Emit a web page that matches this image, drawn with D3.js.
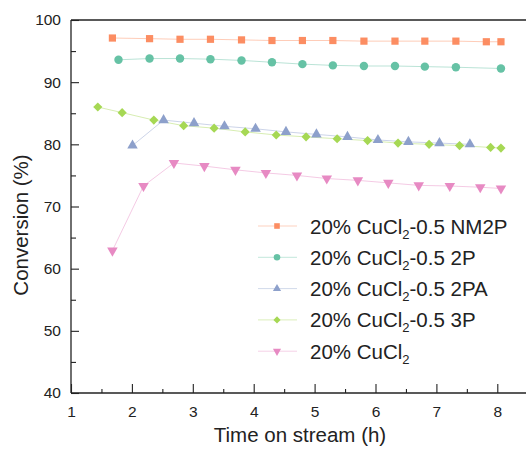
<!DOCTYPE html>
<html>
<head>
<meta charset="utf-8">
<script src="https://cdn.jsdelivr.net/npm/d3@7"></script>
<style>
  body { margin: 0; background: #fff; }
  svg { display: block; font-family: Arial, "Liberation Sans", sans-serif; }
</style>
</head>
<body>
<svg id="chart" width="526" height="450"></svg>
<script>
// values
const seriesNames = ["NM2P", "2P", "2PA", "3P", "CuCl2"];

const timeNM2P = [1.68, 2.29, 2.79, 3.29, 3.80, 4.30, 4.80, 5.30, 5.81, 6.32, 6.81, 7.32, 7.82, 8.06];
const convNM2P = [97.1, 97.0, 96.9, 96.9, 96.8, 96.7, 96.7, 96.7, 96.6, 96.6, 96.6, 96.6, 96.5, 96.5];

const time2P = [1.78, 2.29, 2.79, 3.29, 3.80, 4.30, 4.80, 5.30, 5.81, 6.32, 6.81, 7.32, 8.06];
const conv2P = [93.6, 93.8, 93.8, 93.7, 93.5, 93.2, 92.9, 92.7, 92.6, 92.6, 92.5, 92.4, 92.2];

const time2PA = [2.01, 2.52, 3.02, 3.52, 4.03, 4.53, 5.03, 5.54, 6.04, 6.54, 7.05, 7.55];
const conv2PA = [79.8, 83.9, 83.4, 82.9, 82.5, 82.0, 81.6, 81.2, 80.7, 80.4, 80.2, 80.0];

const time3P = [1.44, 1.84, 2.36, 2.85, 3.35, 3.86, 4.37, 4.86, 5.37, 5.87, 6.37, 6.88, 7.38, 7.89, 8.06];
const conv3P = [86.0, 85.1, 83.9, 83.0, 82.6, 82.0, 81.5, 81.2, 80.9, 80.6, 80.2, 80.0, 79.8, 79.5, 79.4];

const timeCu = [1.68, 2.19, 2.69, 3.19, 3.70, 4.20, 4.71, 5.20, 5.71, 6.21, 6.71, 7.22, 7.72, 8.06];
const convCu = [62.9, 73.3, 77.0, 76.5, 75.9, 75.4, 75.0, 74.5, 74.2, 73.8, 73.4, 73.3, 73.1, 72.9];

const xTicks = [1, 2, 3, 4, 5, 6, 7, 8];
const yTicks = [40, 50, 60, 70, 80, 90, 100];

const series = [
  {key: "NM2P", label: "-0.5 NM2P", x: timeNM2P, y: convNM2P, color: "#fc8d62", sym: d3.symbolSquare, size: 52, rot: 0},
  {key: "2P", label: "-0.5 2P", x: time2P, y: conv2P, color: "#66c2a5", sym: d3.symbolCircle, size: 56, rot: 0},
  {key: "2PA", label: "-0.5 2PA", x: time2PA, y: conv2PA, color: "#8da0cb", sym: d3.symbolTriangle, size: 48, rot: 0},
  {key: "3P", label: "-0.5 3P", x: time3P, y: conv3P, color: "#a6d854", sym: d3.symbolSquare, size: 42, rot: 45},
  {key: "CuCl2", label: "", x: timeCu, y: convCu, color: "#e78ac3", sym: d3.symbolTriangle, size: 48, rot: 180}
];

const svg = d3.select("#chart");
const mLeft = 71, mTop = 20, mBottom = 393;
const x = d3.scaleLinear().domain([1, 8.5]).range([mLeft, mLeft + 7.5 * 60.9]);
const y = d3.scaleLinear().domain([40, 100]).range([mBottom, mTop]);

// axes
const axisColor = "#222";
const xAxis = svg.append("g").attr("transform", `translate(0,${mBottom})`)
  .call(d3.axisBottom(x).tickValues(xTicks).tickSize(-9).tickPadding(13).tickFormat(d3.format("d")));
svg.append("g").attr("transform", `translate(0,${mBottom})`)
  .call(d3.axisBottom(x).tickValues(d3.range(1.5, 8.5, 1)).tickSize(-4).tickFormat(""))
  .call(g => g.select(".domain").remove());

const yAxis = svg.append("g").attr("transform", `translate(${mLeft},0)`)
  .call(d3.axisLeft(y).tickValues(yTicks).tickSize(-8).tickPadding(10).tickFormat(d3.format("d")));
svg.append("g").attr("transform", `translate(${mLeft},0)`)
  .call(d3.axisLeft(y).tickValues(d3.range(45, 100, 10)).tickSize(-5).tickFormat(""))
  .call(g => g.select(".domain").remove());

svg.selectAll(".domain").attr("stroke", axisColor).attr("stroke-width", 1.3);
svg.selectAll(".tick line").attr("stroke", axisColor).attr("stroke-width", 1.1);
svg.selectAll(".tick text").attr("fill", "#222").style("font-size", "15.5px");
xAxis.selectAll(".domain").attr("d", `M${mLeft},0H526`);
yAxis.selectAll(".domain").attr("d", `M0,${mBottom}V${mTop}`);

// top frame
svg.append("line").attr("x1", mLeft).attr("x2", 526).attr("y1", mTop).attr("y2", mTop)
  .attr("stroke", axisColor).attr("stroke-width", 1.3);

// titles
svg.append("text").attr("x", 300).attr("y", 442).attr("text-anchor", "middle")
  .style("font-size", "20.5px").attr("fill", "#222").text("Time on stream (h)");
svg.append("text").attr("transform", `translate(28,225) rotate(-90)`)
  .attr("text-anchor", "middle").style("font-size", "20.5px").attr("fill", "#222").text("Conversion (%)");

// series
const line = d3.line();
const plot = svg.append("g");
series.forEach(s => {
  const pts = s.x.map((v, i) => [x(v), y(s.y[i])]);
  plot.append("path").attr("d", line(pts)).attr("fill", "none")
    .attr("stroke", s.color).attr("stroke-opacity", 0.45).attr("stroke-width", 1);
});
series.forEach(s => {
  const sym = d3.symbol().type(s.sym).size(s.size);
  plot.append("g").selectAll("path").data(s.x.map((v, i) => [v, s.y[i]])).join("path")
    .attr("d", sym)
    .attr("fill", s.color)
    .attr("transform", d => `translate(${x(d[0])},${y(d[1])}) rotate(${s.rot})`);
});

// legend
const legend = svg.append("g");
series.forEach((s, i) => {
  const ly = 226 + i * 31.3;
  legend.append("line").attr("x1", 258).attr("x2", 297).attr("y1", ly).attr("y2", ly)
    .attr("stroke", s.color).attr("stroke-opacity", 0.4).attr("stroke-width", 1);
  legend.append("path").attr("d", d3.symbol().type(s.sym).size(s.size * 0.6)())
    .attr("fill", s.color)
    .attr("transform", `translate(277,${ly}) rotate(${s.rot})`);
  const t = legend.append("text").attr("x", 310).attr("y", ly + 7.5)
    .style("font-size", "20.5px").attr("fill", "#222");
  t.append("tspan").text("20% CuCl");
  t.append("tspan").attr("dy", 5).style("font-size", "13px").text("2");
  if (s.label) t.append("tspan").attr("dy", -5).text(s.label);
});
</script>
</body>
</html>
